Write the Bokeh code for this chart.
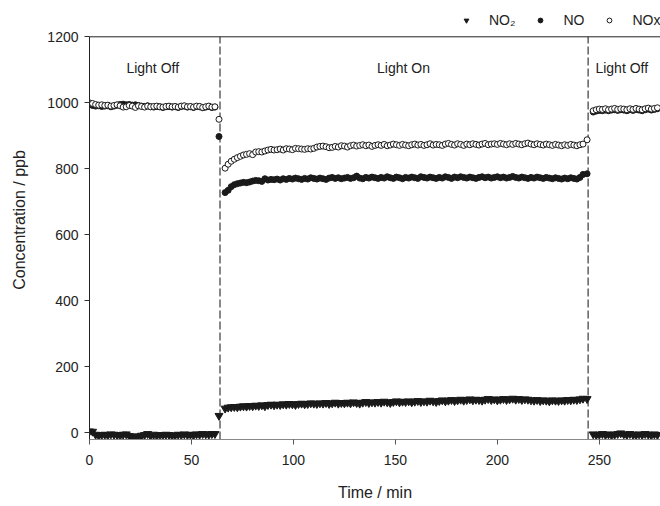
from bokeh.plotting import figure
from bokeh.models import Label, Legend, LegendItem, FixedTicker, Range1d, ColumnDataSource
from bokeh.embed import file_html
from bokeh.resources import INLINE

# ---------------- data ----------------
# segment 1: light off
t_off1 = [0, 1.5, 3, 4.5, 6, 7.5, 9, 10.5, 12, 13.5,
          15, 16.5, 18, 19.5, 21, 22.5, 24, 25.5, 27, 28.5,
          30, 31.5, 33, 34.5, 36, 37.5, 39, 40.5, 42, 43.5,
          45, 46.5, 48, 49.5, 51, 52.5, 54, 55.5, 57, 58.5,
          60, 61.5]
nox_off1 = [1000, 998, 995, 993, 994, 992, 993, 990, 992, 994,
            991, 987, 988, 992, 990, 986, 991, 989, 987, 990,
            988, 989, 990, 988, 987, 989, 990, 988, 989, 987,
            990, 991, 988, 989, 987, 990, 989, 986, 988, 990,
            987, 988]
no_off1 = [995, 992, 990, 991, 989, 990, 991, 988, 990, 993,
           995, 996, 994, 995, 993, 994, 992, 990, 989, 991,
           988, 987, 989, 988, 986, 988, 989, 987, 988, 986,
           989, 990, 987, 988, 986, 989, 988, 985, 987, 989,
           986, 987]
no2_off1 = [5, 4, -5, -8, -6, -5, -7, -4, -5, -6,
            -8, -5, -4, -9, -12, -10, -11, -8, -6, -3,
            -9, -5, -8, -6, -7, -5, -6, -8, -7, -5,
            -6, -4, -6, -5, -7, -4, -5, -3, -4, -5,
            -3, -3]

# switch-on point
t_sw1 = [63.5]
nox_sw1 = [950]
no_sw1 = [898]
no2_sw1 = [52]

# segment 2: light on
t_on = [66.5, 68, 69.5, 71, 72.5, 74, 75.5, 77, 78.5, 80,
        81.5, 83, 84.5, 86, 87.5, 89, 90.5, 92, 93.5, 95,
        96.5, 98, 99.5, 101, 102.5, 104, 105.5, 107, 108.5, 110,
        111.5, 113, 114.5, 116, 117.5, 119, 120.5, 122, 123.5, 125,
        126.5, 128, 129.5, 131, 132.5, 134, 135.5, 137, 138.5, 140,
        141.5, 143, 144.5, 146, 147.5, 149, 150.5, 152, 153.5, 155,
        156.5, 158, 159.5, 161, 162.5, 164, 165.5, 167, 168.5, 170,
        171.5, 173, 174.5, 176, 177.5, 179, 180.5, 182, 183.5, 185,
        186.5, 188, 189.5, 191, 192.5, 194, 195.5, 197, 198.5, 200,
        201.5, 203, 204.5, 206, 207.5, 209, 210.5, 212, 213.5, 215,
        216.5, 218, 219.5, 221, 222.5, 224, 225.5, 227, 228.5, 230,
        231.5, 233, 234.5, 236, 237.5, 239, 240.5, 242]
nox_on = [802, 814, 823, 829, 834, 838, 842, 844, 846, 843,
          851, 852, 851, 854, 857, 859, 857, 858, 860, 857,
          861, 860, 858, 862, 861, 860, 859, 861, 860, 862,
          866, 868, 869, 867, 864, 865, 868, 866, 870, 869,
          866, 870, 872, 869, 871, 873, 870, 872, 868, 871,
          873, 871, 874, 870, 872, 875, 873, 871, 874, 872,
          870, 873, 875, 872, 874, 871, 873, 876, 872, 874,
          873, 871, 875, 877, 874, 872, 876, 874, 871, 875,
          873, 876, 874, 872, 875, 877, 873, 875, 876, 874,
          877, 875, 873, 876, 874, 877, 875, 873, 876, 878,
          875, 873, 876, 874, 872, 875, 873, 871, 874, 872,
          870, 873, 871, 874, 872, 870, 873, 875]
no_on = [728, 735, 746, 752, 755, 757, 759, 758, 760, 763,
         765, 764, 762, 770, 766, 768, 767, 769, 766, 770,
         768, 771, 769, 772, 770, 768, 771, 769, 773, 771,
         769, 772, 770, 768, 772, 774, 771, 773, 770, 772,
         774, 771, 773, 778, 772, 770, 774, 772, 775, 773,
         771, 774, 772, 776, 773, 771, 775, 773, 770, 774,
         772, 775, 773, 771, 776, 774, 772, 775, 773, 771,
         774, 772, 776, 774, 771, 775, 773, 776, 774, 772,
         775, 773, 771, 774, 776, 773, 775, 772, 774, 776,
         773, 775, 772, 774, 777, 774, 772, 775, 773, 771,
         774, 772, 775, 773, 771, 774, 772, 770, 773, 771,
         769, 772, 770, 773, 771, 769, 774, 783]
no2_on = [74, 77, 78, 79, 78, 80, 81, 80, 82, 81,
          83, 82, 84, 81, 85, 86, 84, 86, 85, 87,
          86, 88, 87, 85, 88, 89, 87, 88, 90, 89,
          88, 90, 89, 91, 88, 90, 92, 89, 91, 90,
          92, 90, 93, 91, 89, 92, 94, 91, 93, 92,
          94, 92, 95, 93, 91, 94, 96, 93, 95, 94,
          96, 93, 95, 97, 94, 96, 95, 98, 96, 94,
          97, 99, 96, 98, 100, 97, 99, 101, 98, 100,
          102, 99, 101, 100, 98, 101, 103, 100, 102, 99,
          101, 103, 100, 102, 104, 101, 103, 100, 102, 101,
          99, 98, 100, 97, 99, 98, 96, 99, 98, 97,
          99, 98, 100, 99, 101, 100, 102, 104]

# switch-off point
t_sw2 = [244]
nox_sw2 = [888]
no_sw2 = [785]
no2_sw2 = [103]

# segment 3: light off
t_off2 = [247, 248.5, 250, 251.5, 253, 254.5, 256, 257.5, 259, 260.5,
          262, 263.5, 265, 266.5, 268, 269.5, 271, 272.5, 274, 275.5,
          277, 278.5]
nox_off2 = [976, 979, 981, 980, 982, 979, 981, 983, 980, 982,
            981, 979, 982, 980, 983, 981, 979, 982, 984, 981,
            983, 985]
no_off2 = [972, 975, 977, 976, 978, 976, 978, 979, 977, 979,
           978, 976, 979, 977, 980, 978, 976, 979, 981, 978,
           980, 982]
no2_off2 = [-4, -6, -5, -3, -6, -4, -7, -5, -3, -1,
            -4, -6, -3, -5, -7, -4, -6, -3, -5, -7,
            -4, -6]

switch_times = [64, 244.5]
x_ticks = [0, 50, 100, 150, 200, 250]
y_ticks = [0, 200, 400, 600, 800, 1000, 1200]
y_min, y_max = -20, 1200
phase_labels = ["Light Off", "Light On", "Light Off"]
phase_x = [31, 154, 261]
phase_y = 1105

time = t_off1 + t_sw1 + t_on + t_sw2 + t_off2
nox = nox_off1 + nox_sw1 + nox_on + nox_sw2 + nox_off2
no = no_off1 + no_sw1 + no_on + no_sw2 + no_off2
no2 = no2_off1 + no2_sw1 + no2_on + no2_sw2 + no2_off2

src = ColumnDataSource(dict(t=time, nox=nox, no=no, no2=no2))

FONT = "Liberation Sans"

# frame extends above the 1200 line so the legend can sit in that strip
p = figure(width=660, height=506, output_backend="svg", toolbar_location=None,
           x_range=Range1d(0, 280), y_range=Range1d(y_min, 1310),
           min_border_left=89, min_border_top=0, min_border_bottom=67,
           min_border_right=0)
p.outline_line_color = None
p.xgrid.visible = False
p.ygrid.visible = False
p.background_fill_color = "white"
p.border_fill_color = "white"

# phase separators (from bottom to the top line)
p.segment(x0=switch_times, y0=[y_min] * len(switch_times),
          x1=switch_times, y1=[y_max] * len(switch_times),
          line_color="#111111", line_width=1, line_dash="8 3")
# top border line
p.segment(x0=[0], y0=[y_max], x1=[280], y1=[y_max],
          line_color="#222222", line_width=1)

r_no = p.scatter("t", "no", source=src, marker="circle", size=6,
                 fill_color="#1a1a1a", line_color="#1a1a1a")
r_nox = p.scatter("t", "nox", source=src, marker="circle", size=6,
                  fill_color="white", line_color="#1a1a1a", line_width=1)
r_no2 = p.scatter("t", "no2", source=src, marker="inverted_triangle", size=8,
                  fill_color="#1a1a1a", line_color="#1a1a1a")

for txt, xx in zip(phase_labels, phase_x):
    p.add_layout(Label(x=xx, y=phase_y, text=txt, text_align="center",
                       text_baseline="middle", text_font=FONT,
                       text_font_size="14px", text_color="#222222"))

# axes
for ax in (p.xaxis[0], p.yaxis[0]):
    ax.major_tick_out = 5
    ax.major_tick_in = 0
    ax.minor_tick_line_color = None
    ax.major_label_text_font = FONT
    ax.major_label_text_font_size = "14px"
    ax.major_label_text_color = "#222222"
    ax.axis_label_text_font = FONT
    ax.axis_label_text_font_size = "16px"
    ax.axis_label_text_font_style = "normal"
    ax.axis_label_text_color = "#222222"
    ax.major_tick_line_color = "#333333"

p.xaxis.ticker = FixedTicker(ticks=x_ticks)
p.yaxis.ticker = FixedTicker(ticks=y_ticks)
p.yaxis.bounds = (y_min, y_max)
p.xaxis.axis_label = "Time / min"
p.yaxis.axis_label = "Concentration / ppb"
p.xaxis.axis_line_color = "#888888"
p.xaxis.major_tick_line_color = "#555555"
p.yaxis.axis_line_color = "#222222"
p.xaxis.major_label_standoff = 10
p.xaxis.axis_label_standoff = 16
p.yaxis.major_label_standoff = 6
p.yaxis.axis_label_standoff = 16

legend = Legend(items=[LegendItem(label="NO\u2082", renderers=[r_no2]),
                       LegendItem(label="NO", renderers=[r_no]),
                       LegendItem(label="NOx", renderers=[r_nox])],
                orientation="horizontal", location=(371, 411),
                label_text_font=FONT, label_text_font_size="14px",
                label_text_color="#222222",
                glyph_width=12, glyph_height=14, label_standoff=17,
                spacing=19, padding=0, margin=0,
                border_line_color=None, background_fill_alpha=0)
p.add_layout(legend)

open("out.html", "w").write(file_html(p, INLINE))
